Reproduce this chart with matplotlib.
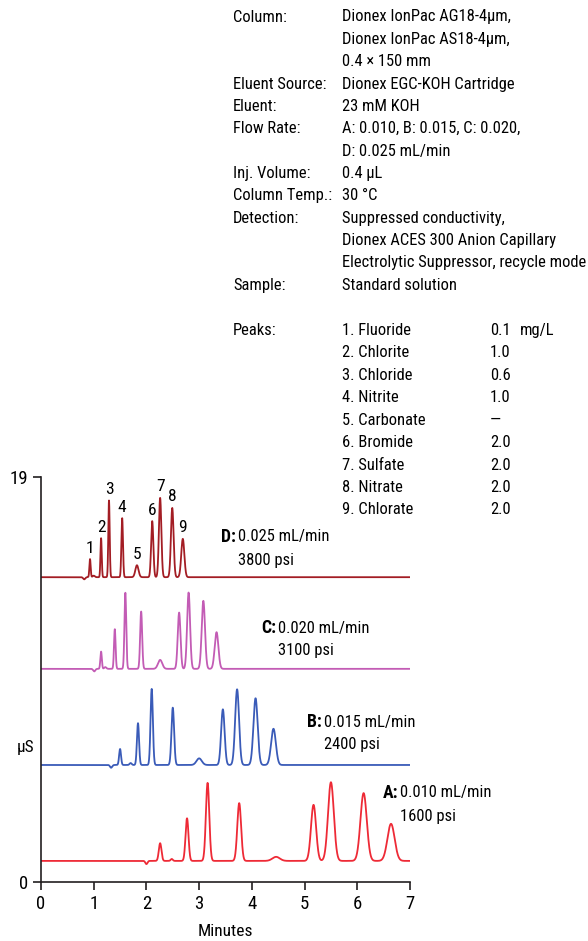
import matplotlib
matplotlib.use("Agg")
import matplotlib.pyplot as plt
from matplotlib import font_manager
import numpy as np

# pick a condensed sans similar to the original figure font
installed = {f.name for f in font_manager.fontManager.ttflist}
candidates = ['Roboto Condensed', 'Archivo Narrow', 'PT Sans Narrow', 'Liberation Sans Narrow', 'Roboto']
families = [c for c in candidates if c in installed][:1] + ['DejaVu Sans']
plt.rcParams['font.family'] = families
plt.rcParams['font.size'] = 11.9

# chromatogram peaks (retention min, height uS above baseline)
series_names = ["A", "B", "C", "D"]
flow_rates = ["0.010 mL/min", "0.015 mL/min", "0.020 mL/min", "0.025 mL/min"]
pressures = ["1600 psi", "2400 psi", "3100 psi", "3800 psi"]
colours = ["#ee2a36", "#3a5bb8", "#c35cb5", "#a31d24"]
baselines = [0.99, 5.49, 10.0, 14.3]

times_a = [2.26, 2.77, 3.16, 3.76, 4.46, 5.17, 5.50, 6.12, 6.64]
heights_a = [0.83, 2.00, 3.66, 2.71, 0.19, 2.63, 3.69, 3.18, 1.74]
widths_a = [0.025, 0.028, 0.032, 0.036, 0.07, 0.048, 0.055, 0.06, 0.068]

times_b = [1.50, 1.84, 2.10, 2.50, 3.00, 3.45, 3.72, 4.07, 4.41]
heights_b = [0.75, 1.96, 3.57, 2.69, 0.31, 2.61, 3.55, 3.13, 1.70]
widths_b = [0.018, 0.02, 0.022, 0.025, 0.05, 0.033, 0.037, 0.04, 0.045]

times_c = [1.14, 1.40, 1.60, 1.90, 2.26, 2.62, 2.80, 3.08, 3.33]
heights_c = [0.81, 1.86, 3.57, 2.69, 0.42, 2.64, 3.58, 3.19, 1.72]
widths_c = [0.014, 0.015, 0.017, 0.019, 0.04, 0.026, 0.028, 0.031, 0.035]

times_d = [0.93, 1.14, 1.29, 1.54, 1.82, 2.11, 2.26, 2.49, 2.69]
heights_d = [0.85, 1.83, 3.60, 2.77, 0.56, 2.63, 3.72, 3.25, 1.80]
widths_d = [0.012, 0.012, 0.013, 0.015, 0.03, 0.021, 0.023, 0.025, 0.029]

# system dip and small bump before / among first peaks
dip_times = [2.00, 1.33, 1.01, 0.82]
dip_depths = [0.15, 0.13, 0.12, 0.1]
bump_times = [2.48, 1.70, 1.22, 1.00]
bump_heights = [0.09, 0.09, 0.08, 0.07]

peak_labels = ["1", "2", "3", "4", "5", "6", "7", "8", "9"]

info_rows = [
    ("Column:", "Dionex IonPac AG18-4µm,"),
    ("", "Dionex IonPac AS18-4µm,"),
    ("", "0.4 × 150 mm"),
    ("Eluent Source:", "Dionex EGC-KOH Cartridge"),
    ("Eluent:", "23 mM KOH"),
    ("Flow Rate:", "A: 0.010, B: 0.015, C: 0.020,"),
    ("", "D: 0.025 mL/min"),
    ("Inj. Volume:", "0.4 µL"),
    ("Column Temp.:", "30 °C"),
    ("Detection:", "Suppressed conductivity,"),
    ("", "Dionex ACES 300 Anion Capillary"),
    ("", "Electrolytic Suppressor, recycle mode"),
    ("Sample:", "Standard solution"),
]
analytes = ["1. Fluoride", "2. Chlorite", "3. Chloride", "4. Nitrite", "5. Carbonate",
            "6. Bromide", "7. Sulfate", "8. Nitrate", "9. Chlorate"]
concentrations = ["0.1", "1.0", "0.6", "1.0", "—", "2.0", "2.0", "2.0", "2.0"]

all_times = [times_a, times_b, times_c, times_d]
all_heights = [heights_a, heights_b, heights_c, heights_d]
all_widths = [widths_a, widths_b, widths_c, widths_d]

W, H = 588, 941
fig = plt.figure(figsize=(W / 100, H / 100), dpi=100)
ax = fig.add_axes([41 / W, 1 - 882 / H, 369 / W, 405 / H])

t = np.linspace(0, 7, 4000)
text_x = [400, 324, 278, 238]
text_y = [793, 722, 628, 537]

for i in range(4):
    y = np.full_like(t, baselines[i])
    for rt, h, w in zip(all_times[i], all_heights[i], all_widths[i]):
        y += h * np.exp(-0.5 * ((t - rt) / w) ** 2)
    y -= dip_depths[i] * np.exp(-0.5 * ((t - dip_times[i]) / 0.02) ** 2)
    y += bump_heights[i] * np.exp(-0.5 * ((t - bump_times[i]) / 0.02) ** 2)
    ax.plot(t, y, color=colours[i], lw=1.3)

    fig.text((text_x[i] - 2) / W, 1 - text_y[i] / H, series_names[i] + ":", ha='right', va='center',
             fontweight='bold', fontsize=12.8)
    fig.text(text_x[i] / W, 1 - text_y[i] / H, flow_rates[i], ha='left', va='center')
    fig.text(text_x[i] / W, 1 - (text_y[i] + 23) / H, pressures[i], ha='left', va='center')

for rt, h, lab in zip(times_d, heights_d, peak_labels):
    ax.annotate(lab, (rt, baselines[3] + h), xytext=(0, 2.5), textcoords='offset points',
                ha='center', va='bottom', fontsize=12.5)

ax.set_xlim(0, 7)
ax.set_ylim(0, 19)
ax.set_xticks(range(8))
ax.set_yticks([0, 19])
ax.spines['top'].set_visible(False)
ax.spines['right'].set_visible(False)
ax.spines['left'].set_bounds(0, 19)
for s in ['left', 'bottom']:
    ax.spines[s].set_color('#231f20')
    ax.spines[s].set_linewidth(1.2)
ax.tick_params(direction='out', length=6, width=1.2, color='#231f20', labelsize=13.5)
ax.text(-0.043, 0.331, "µS", transform=ax.transAxes, ha='center', va='center', fontsize=12.5)
ax.text(0.5, -0.123, "Minutes", transform=ax.transAxes, ha='center', va='center', fontsize=12.5)

row_y = 17
for label, value in info_rows:
    fig.text(233 / W, 1 - row_y / H, label, ha='left', va='center')
    fig.text(342 / W, 1 - row_y / H, value, ha='left', va='center')
    row_y += 22.35

row_y = 330
fig.text(233 / W, 1 - row_y / H, "Peaks:", ha='left', va='center')
for k, (name, conc) in enumerate(zip(analytes, concentrations)):
    yy = 1 - (row_y + k * 22.5) / H
    fig.text(342 / W, yy, name, ha='left', va='center')
    fig.text(490 / W, yy, conc, ha='left', va='center')
fig.text(520 / W, 1 - row_y / H, "mg/L", ha='left', va='center')

fig.savefig("out.png", dpi=100)
